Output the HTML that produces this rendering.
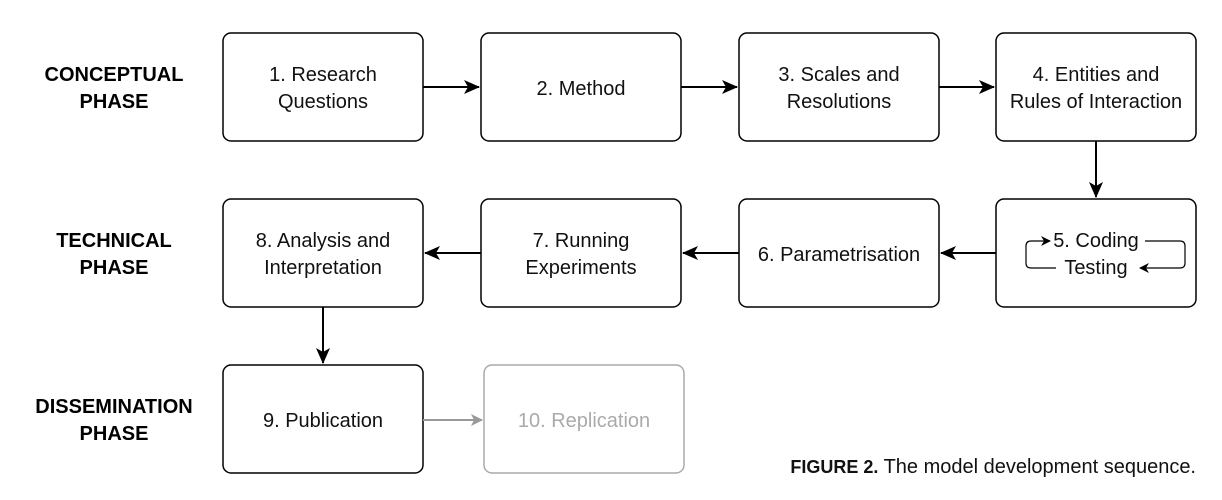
<!DOCTYPE html>
<html><head><style>
html,body{margin:0;padding:0;background:#fff;}
svg text{font-family:"Liberation Sans",sans-serif;}
</style></head><body>
<svg width="1222" height="495" viewBox="0 0 1222 495" xmlns="http://www.w3.org/2000/svg">
<defs>
<marker id="a" markerWidth="10" markerHeight="10" refX="9" refY="5" orient="auto" markerUnits="userSpaceOnUse"><path d="M0,0 L10,5 L0,10 L3,5 z" fill="#000"/></marker>
<marker id="g" markerWidth="12" markerHeight="12" refX="11" refY="6" orient="auto" markerUnits="userSpaceOnUse"><path d="M0,0 L12,6 L0,12 L3,6 z" fill="#999"/></marker>
<marker id="b" markerWidth="16" markerHeight="14" refX="15" refY="7" orient="auto" markerUnits="userSpaceOnUse"><path d="M0,0 L16,7 L0,14 L4,7 z" fill="#000"/></marker>
</defs>
<g font-weight="bold" font-size="20" text-anchor="middle" fill="#000">
<text x="114" y="81">CONCEPTUAL</text><text x="114" y="108">PHASE</text>
<text x="114" y="247">TECHNICAL</text><text x="114" y="274">PHASE</text>
<text x="114" y="413">DISSEMINATION</text><text x="114" y="440">PHASE</text>
</g>
<g fill="#fff" stroke="#000" stroke-width="1.5">
<rect x="223" y="33" width="200" height="108" rx="8"/>
<rect x="481" y="33" width="200" height="108" rx="8"/>
<rect x="739" y="33" width="200" height="108" rx="8"/>
<rect x="996" y="33" width="200" height="108" rx="8"/>
<rect x="223" y="199" width="200" height="108" rx="8"/>
<rect x="481" y="199" width="200" height="108" rx="8"/>
<rect x="739" y="199" width="200" height="108" rx="8"/>
<rect x="996" y="199" width="200" height="108" rx="8"/>
<rect x="223" y="365" width="200" height="108" rx="8"/>
</g>
<rect x="484" y="365" width="200" height="108" rx="8" fill="#fff" stroke="#aaa" stroke-width="1.5"/>
<g font-size="20" text-anchor="middle" fill="#111">
<text x="323" y="81">1. Research</text><text x="323" y="108">Questions</text>
<text x="581" y="95">2. Method</text>
<text x="839" y="81">3. Scales and</text><text x="839" y="108">Resolutions</text>
<text x="1096" y="81">4. Entities and</text><text x="1096" y="108">Rules of Interaction</text>
<text x="323" y="247">8. Analysis and</text><text x="323" y="274">Interpretation</text>
<text x="581" y="247">7. Running</text><text x="581" y="274">Experiments</text>
<text x="839" y="261">6. Parametrisation</text>
<text x="1096" y="247">5. Coding</text><text x="1096" y="274">Testing</text>
<text x="323" y="427">9. Publication</text>
<text x="584" y="427" fill="#aaa">10. Replication</text>
</g>
<g stroke="#000" stroke-width="2" fill="none">
<line x1="423" y1="87" x2="479" y2="87" marker-end="url(#b)"/>
<line x1="681" y1="87" x2="737" y2="87" marker-end="url(#b)"/>
<line x1="939" y1="87" x2="994" y2="87" marker-end="url(#b)"/>
<line x1="1096" y1="141" x2="1096" y2="197" marker-end="url(#b)"/>
<line x1="996" y1="253" x2="941" y2="253" marker-end="url(#b)"/>
<line x1="739" y1="253" x2="683" y2="253" marker-end="url(#b)"/>
<line x1="481" y1="253" x2="425" y2="253" marker-end="url(#b)"/>
<line x1="323" y1="307" x2="323" y2="363" marker-end="url(#b)"/>
</g>
<line x1="423" y1="420" x2="482" y2="420" stroke="#999" stroke-width="2" marker-end="url(#g)"/>
<g stroke="#000" stroke-width="1.2" fill="none">
<path d="M1145,241 L1180,241 Q1185,241 1185,246 L1185,263 Q1185,268 1180,268 L1140,268" marker-end="url(#a)"/>
<path d="M1056,268 L1031,268 Q1026,268 1026,263 L1026,246 Q1026,241 1031,241 L1050,241" marker-end="url(#a)"/>
</g>
<text x="1196" y="473" text-anchor="end" font-size="20" fill="#111"><tspan font-weight="bold" font-size="18">FIGURE 2.</tspan> The model development sequence.</text>
</svg>
</body></html>
